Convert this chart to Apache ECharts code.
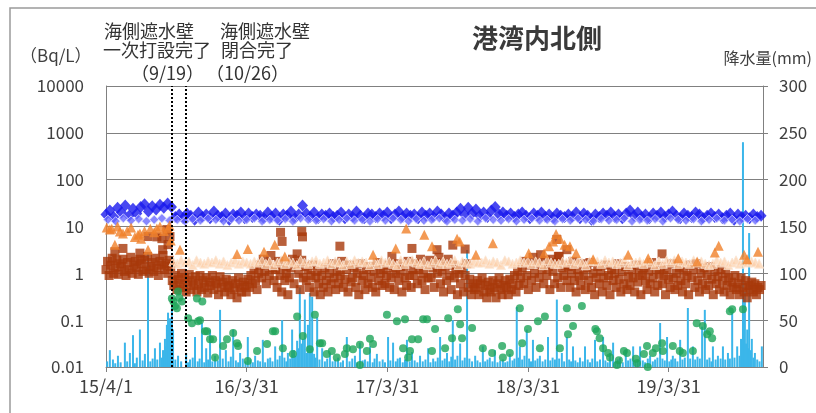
<!DOCTYPE html>
<html><head><meta charset="utf-8">
<script src="https://cdn.jsdelivr.net/npm/echarts@6/dist/echarts.min.js"></script>
<style>html,body{margin:0;padding:0;background:#fff}#c{width:816px;height:413px}</style>
</head><body><div id="c"></div>
<script>
// x values are day offsets from 2015-04-01
const xTickDays = [0, 365, 730, 1095, 1460];
const xTickLabels = ['15/4/1', '16/3/31', '17/3/31', '18/3/31', '19/3/31'];
const yTickLabels = ['0.01', '0.1', '1', '10', '100', '1000', '10000'];
const wallDays = [171, 208];
const wallText1 = ['海側遮水壁', '一次打設完了', '（9/19）'];
const wallText2 = ['海側遮水壁', '閉合完了', '（10/26）'];

// blue diamonds, one value every 10 days
const blueStep = 10;
const blueVals = [
18,22,16,25,20,28,17,24,19,26,
30,21,27,23,29,25,31,26,16,18,
15,19,17,14,20,16,18,15,21,17,
16,19,14,18,17,20,15,19,16,18,
17,15,20,16,19,14,18,17,21,15,
18,28,19,16,20,15,18,17,19,16,
17,20,15,18,16,21,17,15,19,18,
16,19,17,20,15,18,21,16,19,17,
18,15,20,17,19,16,21,18,15,19,
17,20,24,18,25,19,23,17,20,16,
22,26,18,20,17,19,16,18,20,17,
15,19,17,20,16,18,15,19,17,16,
18,16,20,15,19,17,14,18,16,19,
17,20,16,18,15,19,22,17,20,16,
18,15,19,17,20,16,18,21,17,15,
19,17,16,20,18,15,17,19,16,18,
15,17,19,14,18,16,17,15,18,16,
17];
// blue below-detection (hollow) values, every 20 days from day 5
const blueNdStart = 5, blueNdStep = 20;
const blueNdVals = [
14,13,15,13.5,14.5,13,14,15,13.5,14,
13,14.5,13.5,15,14,13,14.5,13.5,14,15,
13,14,13.5,14.5,13,15,14,13.5,14.5,13,
14,15,13.5,14,13,14.5,13.5,15,14,13,
14.5,13.5,14,15,13,14,13.5,14.5,13,15,
14,13.5,14.5,13,14,15,13.5,14,13,14.5,
13.5,15,14,13,14.5,13.5,14,15,13,14,
13.5,14.5,13,15,14,13.5,14.5,13,14,15,
13.5,14,13,14.5,13.5];

// brown squares, one value every 4 days
const brownStep = 4;
const brownVals = [
1.2,1.8,0.9,1.5,2.1,1.0,1.3,1.9,0.95,1.6,
1.4,2.0,1.1,0.9,1.7,1.2,2.2,1.0,1.5,1.8,
1.3,0.95,2.0,1.6,1.1,1.9,1.2,2.3,1.0,1.4,
1.7,1.1,2.1,1.3,0.9,1.8,1.5,2.4,1.2,1.6,
1.0,1.9,1.4,0.7,0.55,0.9,0.45,0.75,0.6,1.0,
0.5,0.8,0.4,0.65,0.95,0.45,0.7,0.55,0.85,0.4,
0.6,0.9,0.45,0.7,0.5,0.8,0.38,0.65,0.55,0.9,
0.45,0.7,0.6,0.35,0.85,0.5,0.65,0.4,0.75,0.55,
0.5,0.35,0.7,0.45,0.6,0.3,0.8,0.5,0.4,0.65,
0.55,0.4,0.75,0.5,0.9,0.6,1.2,0.7,0.45,1.0,
1.5,0.8,2.0,1.1,0.6,1.6,0.9,2.4,1.3,0.7,
1.2,0.5,1.8,0.9,0.4,1.4,0.7,1.0,0.35,0.8,
1.3,2.0,0.6,1.6,2.6,1.0,0.45,1.9,0.8,1.4,
0.7,1.2,0.5,0.9,1.5,0.4,0.8,1.1,0.6,0.35,
0.9,0.5,1.3,0.7,0.4,1.0,0.6,1.6,0.8,0.45,
1.1,0.6,0.9,1.8,0.5,0.75,1.2,0.4,1.5,0.65,
0.8,1.3,0.5,1.0,0.35,1.6,0.7,0.9,0.45,1.2,
0.6,1.4,0.8,0.5,1.1,0.4,1.7,0.7,1.0,0.55,
1.2,0.6,0.9,1.5,0.5,0.8,1.3,0.45,1.0,1.6,
0.7,1.1,0.4,1.4,0.8,0.55,1.8,0.9,0.5,1.2,
0.9,1.6,0.6,1.2,2.0,0.7,1.0,0.45,1.5,0.8,
1.9,0.8,1.3,0.5,1.7,1.0,2.2,0.6,1.1,0.4,
1.4,0.7,2.0,0.9,0.45,1.5,0.8,1.2,0.35,1.0,
0.6,1.3,0.4,0.9,1.6,0.5,0.75,0.35,0.6,0.45,
0.5,0.7,0.35,0.6,0.8,0.4,0.55,0.3,0.65,0.45,
0.4,0.7,0.5,0.3,0.6,0.8,0.45,0.35,0.55,0.7,
0.5,0.35,0.75,0.45,0.6,0.9,0.4,1.1,0.55,0.8,
1.3,0.6,1.8,0.9,0.45,1.5,0.7,2.2,1.0,0.5,
1.6,0.8,2.5,1.2,0.6,1.9,0.9,1.4,0.45,2.0,
1.1,0.6,1.7,0.8,2.3,0.5,1.3,0.9,1.5,0.7,
1.4,0.5,1.0,1.8,0.7,0.4,1.2,0.85,0.55,1.6,
0.9,0.45,1.3,0.7,1.7,0.5,1.0,0.35,0.8,1.4,
0.6,1.1,0.4,0.8,1.5,0.55,0.9,0.35,1.2,0.7,
1.0,0.5,1.6,0.75,0.4,1.1,0.6,1.4,0.45,0.85,
0.55,1.2,0.8,0.4,1.5,0.65,1.0,0.35,0.9,1.3,
0.7,0.45,1.1,0.6,1.7,0.8,0.4,1.2,0.55,0.95,
1.4,0.6,0.9,0.35,1.2,0.75,0.5,1.6,0.8,0.45,
1.0,0.55,1.3,0.7,0.4,1.1,0.6,0.9,0.35,1.5,
0.8,1.2,0.5,1.6,0.7,0.4,1.0,0.6,1.3,0.45,
0.9,0.55,1.4,0.75,0.35,1.1,0.6,0.85,0.45,1.2,
0.7,0.4,1.0,0.55,0.8,0.35,0.65,0.5,0.9,0.45,
0.6,0.35,0.8,0.5,0.4,0.7,0.3,0.55,0.45,0.65,
0.4,0.6,0.35,0.5,0.45,0.55];
// higher brown squares [day, value]
const brownHigh = [[23,2.9],[44,3.4],[88,2.7],[109,6.1],[132,6.0],[145,5.5],[147,3.2],[158,8.6],[161,4.1],[166,6.1],
[453,7.5],[457,4.8],[508,7.8],[510,6.0],[607,3.8],[742,2.3],[794,3.4],[859,3.2],[900,4.0],[932,3.3],
[1170,5.3],[1196,3.2],[1174,2.3],[1443,2.6]];

// orange triangles [day, value]
const orangePts = [[2,9.5],[10,8.6],[15,9],[23,4.1],[30,10],[36,7.8],[44,7.1],[55,8],[65,9.5],[75,6],
[83,6.7],[88,7.1],[91,5.5],[100,8],[109,3.2],[115,9],[125,7.5],[132,9.1],[140,10],[150,8],
[161,9.1],[165,10.5],[168,5],[192,3.2],[340,2.6],[368,3.3],[410,2.9],[438,4.1],[464,2.3],[693,2.5],
[752,3.4],[779,9.1],[826,6.7],[846,3.8],[911,5.5],[918,4.8],[960,2.5],[1004,4.4],[1097,2.7],[1137,2.7],
[1150,3.8],[1160,4.8],[1168,6.9],[1178,5.5],[1190,4.1],[1204,3.8],[1220,2.7],[1264,2.0],[1355,2.5],[1407,2.1],
[1485,2.1],[1534,1.8],[1580,2.8],[1590,3.9],[1656,2.5],[1664,2.0],[1692,2.9]];
// orange below-detection (hollow) values every 10 days from day 175
const orangeNdStart = 175, orangeNdStep = 10;
const orangeNdVals = [
1.8,1.6,1.9,1.7,1.8,1.5,1.9,1.7,1.6,1.8,
1.7,1.9,1.6,1.8,1.5,1.7,1.9,1.6,1.8,1.7,
1.6,1.8,1.7,1.9,1.6,1.8,1.5,1.7,1.9,1.6,
1.8,1.7,1.5,1.9,1.7,1.6,1.8,1.9,1.6,1.7,
1.9,1.6,1.8,1.7,1.5,1.8,1.6,1.9,1.7,1.8,
1.7,1.5,1.8,1.6,1.9,1.7,1.8,1.6,1.5,1.9,
1.6,1.8,1.9,1.7,1.6,1.8,1.5,1.7,1.9,1.6,
1.8,1.6,1.7,1.9,1.5,1.8,1.7,1.6,1.8,1.7,
1.7,1.9,1.6,1.8,1.7,1.5,1.9,1.8,1.6,1.7,
1.9,1.7,1.8,1.6,1.8,1.7,1.5,1.9,1.7,1.6,
1.6,1.8,1.7,1.9,1.6,1.8,1.7,1.5,1.8,1.9,
1.8,1.6,1.9,1.7,1.8,1.6,1.7,1.9,1.5,1.7,
1.7,1.8,1.6,1.9,1.7,1.5,1.8,1.6,1.9,1.7,
1.9,1.6,1.8,1.7,1.6,1.9,1.7,1.8,1.6,1.5,
1.6,1.9,1.7,1.8,1.5,1.7,1.9,1.6,1.8,1.7,
1.8,1.7,1.6];

// green circles [day, value]
const greenPts = [[171,0.29],[175,0.25],[179,0.2],[184,0.18],[187,0.41],[190,0.3],[197,0.25],[213,0.11],[223,0.086],[236,0.29],
[239,0.095],[244,0.1],[250,0.25],[257,0.058],[262,0.058],[270,0.039],[278,0.039],[283,0.016],[304,0.028],[314,0.039],
[330,0.053],[340,0.032],[343,0.028],[368,0.0135],[392,0.022],[418,0.031],[433,0.058],[439,0.058],[459,0.025],[485,0.019],
[496,0.12],[511,0.046],[529,0.024],[542,0.13],[555,0.032],[561,0.032],[573,0.019],[586,0.022],[599,0.016],[620,0.019],
[625,0.025],[641,0.024],[659,0.011],[659,0.03],[677,0.022],[685,0.04],[693,0.031],[729,0.13],[755,0.095],[771,0.025],
[776,0.105],[784,0.016],[789,0.022],[794,0.039],[810,0.039],[823,0.105],[833,0.105],[846,0.022],[854,0.065],[880,0.025],
[888,0.11],[898,0.041],[913,0.17],[919,0.082],[924,0.041],[950,0.068],[978,0.025],[1002,0.02],[1028,0.028],[1030,0.016],
[1048,0.02],[1074,0.18],[1080,0.032],[1095,0.065],[1121,0.095],[1126,0.025],[1139,0.12],[1178,0.025],[1196,0.18],[1199,0.05],
[1212,0.075],[1235,0.2],[1270,0.065],[1274,0.058],[1281,0.041],[1290,0.025],[1303,0.02],[1308,0.016],[1326,0.011],[1331,0.014],
[1344,0.022],[1352,0.02],[1375,0.015],[1378,0.012],[1396,0.019],[1404,0.028],[1406,0.01],[1419,0.02],[1427,0.025],[1443,0.032],
[1445,0.022],[1471,0.028],[1489,0.022],[1497,0.02],[1523,0.022],[1533,0.086],[1549,0.075],[1560,0.05],[1567,0.058],[1573,0.041],
[1619,0.155],[1625,0.17],[1653,0.17]];

// daily precipitation (mm) [day, mm]
const rainPts = [[3,6],[10,18],[18,8],[24,4],[31,12],[38,5],[49,26],[55,6],[62,15],[70,34],[75,4],[80,10],[88,40],[95,7],[101,14],
[109,122],[115,6],[121,9],[127,20],[133,8],[140,26],[145,10],[148,18],[153,30],[156,22],[158,45],[161,58],[163,35],[166,52],[168,28],
[171,64],[174,40],[180,8],[187,12],[195,6],[208,15],[213,5],[218,8],[225,10],[231,32],[238,6],[243,9],[249,47],[255,5],[260,20],
[265,8],[270,40],[276,6],[283,12],[290,7],[296,61],[303,9],[311,18],[318,6],[324,11],[330,40],[337,7],[343,5],[348,15],[355,9],
[362,6],[368,32],[375,8],[381,5],[387,12],[394,7],[400,6],[407,29],[413,5],[420,9],[426,10],[432,6],[439,22],[445,8],[451,12],
[457,50],[463,10],[468,6],[472,15],[478,9],[483,40],[488,18],[492,12],[496,28],[500,20],[503,85],[507,25],[511,30],[516,72],[520,15],
[524,45],[529,79],[532,20],[535,75],[540,14],[544,10],[548,53],[554,8],[561,20],[568,6],[574,9],[581,15],[588,6],[595,8],[602,10],
[609,5],[615,7],[625,32],[632,6],[639,9],[646,12],[652,5],[659,26],[666,7],[672,8],[679,6],[685,22],[692,5],[697,9],[703,14],
[710,6],[718,8],[724,5],[732,32],[738,7],[745,26],[752,6],[757,9],[763,10],[770,5],[776,8],[781,29],[788,6],[794,16],[801,7],
[808,5],[815,12],[822,6],[829,8],[836,20],[842,5],[849,9],[855,6],[861,10],[867,32],[873,7],[879,9],[885,15],[891,6],[896,11],
[900,50],[906,8],[912,12],[919,25],[925,7],[931,10],[937,125],[943,9],[950,6],[958,12],[964,7],[971,5],[978,22],[984,6],[990,8],
[996,10],[1003,6],[1009,18],[1016,5],[1023,7],[1030,8],[1036,5],[1042,6],[1048,14],[1055,7],[1060,9],[1066,64],[1070,10],[1074,22],
[1080,8],[1086,12],[1092,40],[1098,9],[1103,6],[1108,29],[1114,7],[1120,9],[1126,12],[1133,6],[1140,8],[1147,32],[1153,7],[1159,10],
[1165,8],[1170,72],[1176,9],[1183,15],[1189,6],[1196,32],[1202,8],[1207,6],[1212,22],[1218,7],[1224,5],[1230,10],[1237,6],[1243,22],
[1250,8],[1256,5],[1262,9],[1269,29],[1275,6],[1282,8],[1290,32],[1296,7],[1302,5],[1308,15],[1316,26],[1322,6],[1328,8],[1334,10],
[1341,5],[1349,18],[1355,7],[1361,9],[1368,22],[1374,6],[1380,8],[1386,22],[1393,7],[1399,5],[1406,9],[1412,12],[1419,6],[1425,8],
[1431,10],[1438,47],[1444,9],[1450,7],[1456,32],[1462,6],[1467,8],[1471,12],[1477,9],[1483,6],[1490,29],[1496,8],[1502,10],[1510,63],
[1516,9],[1523,22],[1529,8],[1535,11],[1541,9],[1547,43],[1554,61],[1560,8],[1566,10],[1571,6],[1575,22],[1582,8],[1588,12],[1595,9],
[1601,22],[1607,8],[1614,15],[1619,9],[1625,59],[1631,10],[1638,22],[1644,12],[1648,30],[1653,240],[1656,60],[1658,80],[1661,25],
[1664,40],[1667,20],[1669,143],[1672,18],[1676,30],[1680,10],[1684,15],[1690,8],[1696,6],[1702,22]];

const FONT = 'Noto Sans CJK JP';
const TXT = '#404040';

const blueData = blueVals.map((v, i) => [i * blueStep, v]);
const blueNdData = blueNdVals.map((v, i) => [blueNdStart + i * blueNdStep, v]);
const brownData = brownVals.map((v, i) => [i * brownStep, v]).concat(brownHigh);
const orangeNdData = orangeNdVals.map((v, i) => [orangeNdStart + i * orangeNdStep, v]);

const chart = echarts.init(document.getElementById('c'), null, {renderer: 'canvas'});

function wallLabel(lines, left) {
  return lines.map((t, k) => ({
    type: 'text', left: left[k], top: [22, 41, 64][k],
    style: {text: t, font: '18px "' + FONT + '"', fill: '#333'}
  }));
}

chart.setOption({
  animation: false,
  backgroundColor: '#fff',
  textStyle: {fontFamily: FONT},
  grid: {left: 106, right: 53, top: 86, bottom: 46, containLabel: false},
  title: {
    text: '港湾内北側', left: 532, top: 20, textAlign: 'center',
    textStyle: {fontFamily: FONT, fontSize: 26, fontWeight: 'bold', color: '#3a3a3a'}
  },
  graphic: [
    {type: 'rect', shape: {x: 10, y: 8, width: 830, height: 430},
     style: {fill: 'none', stroke: '#9a9a9a', lineWidth: 1.5}, silent: true},
    {type: 'text', left: 20, top: 47, style: {text: '（Bq/L）', font: '17px "' + FONT + '"', fill: TXT}},
    {type: 'text', right: 4, top: 50, style: {text: '降水量(mm)', font: '16px "' + FONT + '"', fill: TXT}}
  ].concat(wallLabel(wallText1, [104, 103, 131])).concat(wallLabel(wallText2, [220, 221, 206])),
  xAxis: {
    type: 'value', min: 0, max: 1705, interval: 365,
    axisLine: {show: true, lineStyle: {color: '#808080', width: 1}},
    axisTick: {show: true, length: 5, lineStyle: {color: '#808080'}},
    splitLine: {show: false},
    axisLabel: {
      color: TXT, fontSize: 18, fontFamily: FONT, margin: 10, showMaxLabel: false,
      formatter: v => { const k = xTickDays.indexOf(v); return k >= 0 ? xTickLabels[k] : ''; }
    }
  },
  yAxis: [
    {
      type: 'log', logBase: 10, min: 0.01, max: 10000,
      axisLine: {show: true, lineStyle: {color: '#808080'}},
      axisTick: {show: false},
      splitLine: {show: true, lineStyle: {color: '#808080', width: 1.2}},
      axisLabel: {
        color: TXT, fontSize: 17, fontFamily: FONT, margin: 22,
        formatter: v => yTickLabels[Math.round(Math.log10(v)) + 2]
      }
    },
    {
      type: 'value', min: 0, max: 300, interval: 50, position: 'right',
      axisLine: {show: true, lineStyle: {color: '#808080'}},
      axisTick: {show: true, length: 5, lineStyle: {color: '#808080'}},
      splitLine: {show: false},
      axisLabel: {color: TXT, fontSize: 17, fontFamily: FONT, margin: 16}
    }
  ],
  series: [
    {type: 'scatter', name: 'blue', data: blueData, symbol: 'diamond', symbolSize: [11, 12],
     itemStyle: {color: '#1a1aee'}},
    {type: 'scatter', name: 'blueNd', data: blueNdData, symbol: 'diamond', symbolSize: 9,
     itemStyle: {color: '#6a6aff', borderColor: '#d8d8ff', borderWidth: 1}},
    {type: 'scatter', name: 'brown', data: brownData, symbol: 'rect', symbolSize: 9,
     itemStyle: {color: '#a8380a'}},
    {type: 'scatter', name: 'orangeNd', data: orangeNdData, symbol: 'triangle', symbolSize: 9,
     itemStyle: {color: 'rgba(252,206,168,0.9)', borderColor: '#fbe6d4', borderWidth: 1}},
    {type: 'scatter', name: 'orange', data: orangePts, symbol: 'triangle', symbolSize: 10,
     itemStyle: {color: '#f0812a'}},
    {type: 'bar', name: 'rain', yAxisIndex: 1, data: rainPts, barWidth: 2, barGap: '-100%',
     itemStyle: {color: '#3bb6ea'},
     markLine: {
       silent: true, symbol: 'none', label: {show: false},
       lineStyle: {color: '#000', type: [2, 2], width: 2},
       data: wallDays.map(d => ({xAxis: d}))
     }},
    {type: 'scatter', name: 'green', data: greenPts, symbol: 'circle', symbolSize: 8,
     itemStyle: {color: '#1ea55a'}}
  ]
});
</script>
</body></html>
